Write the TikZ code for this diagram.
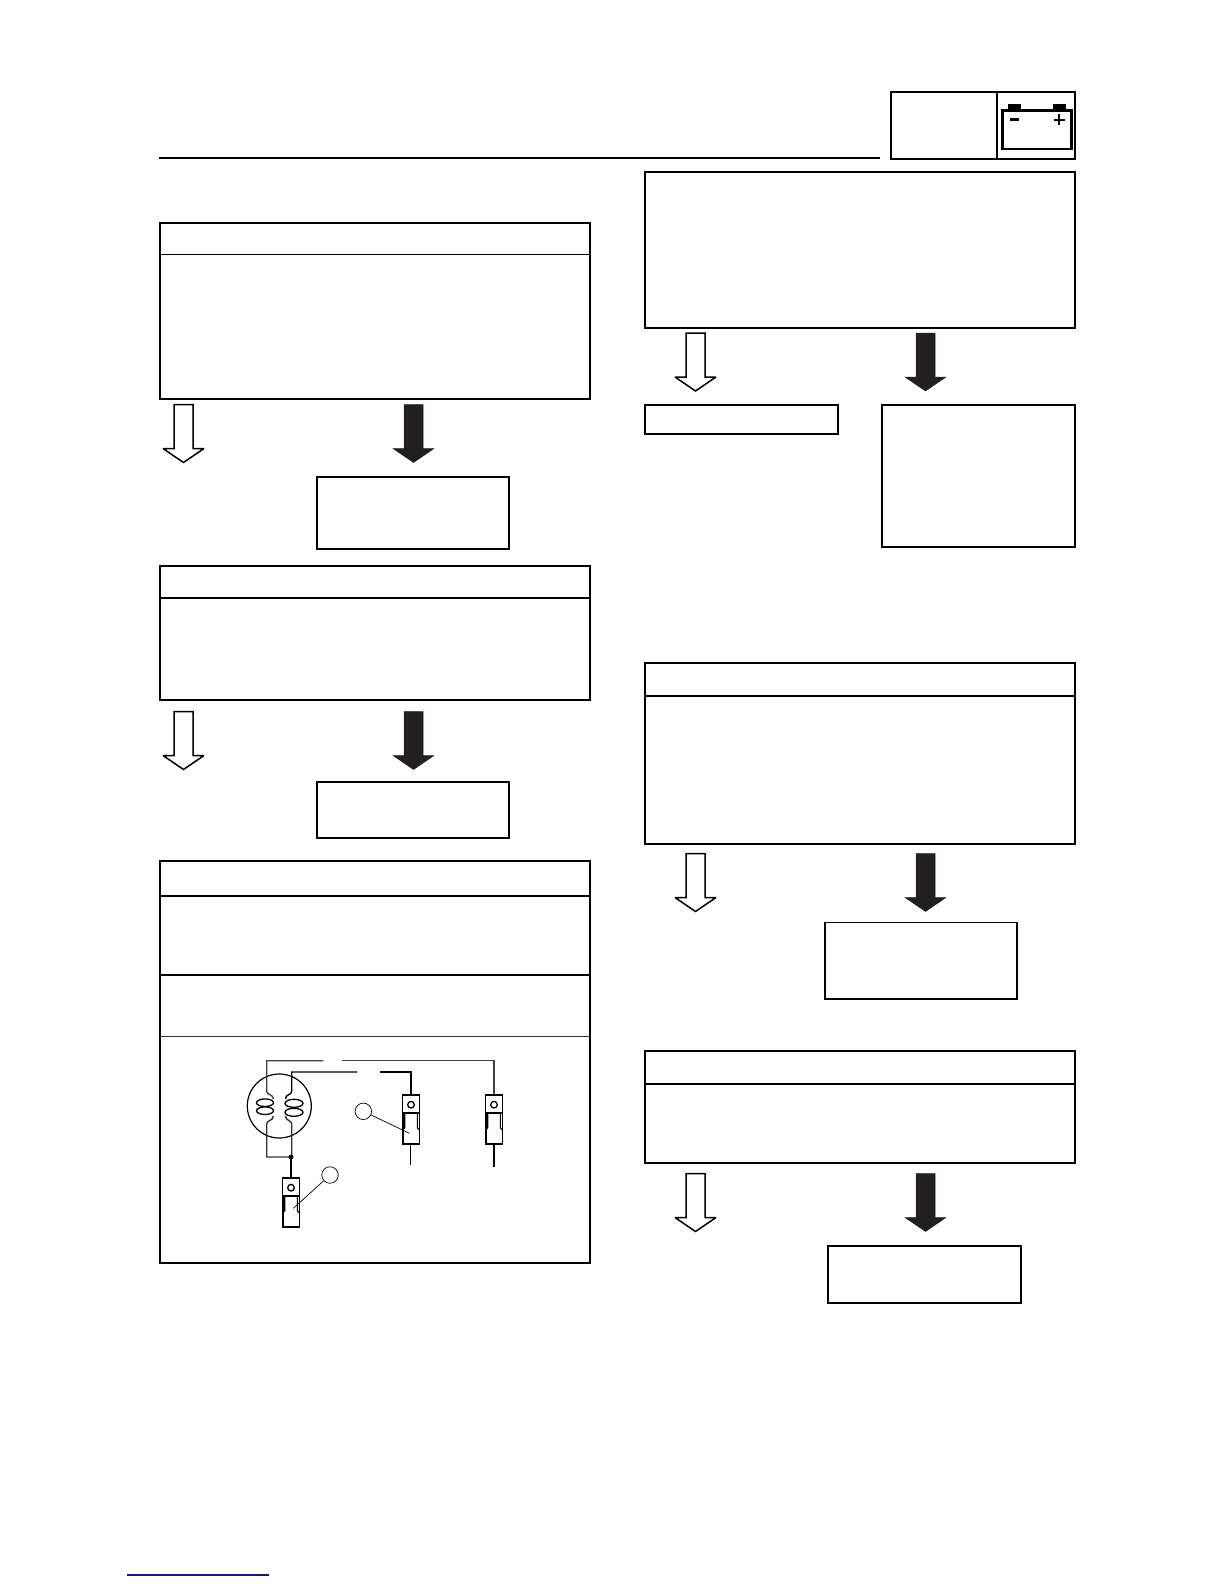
\documentclass[tikz,border=0pt]{standalone}
\usetikzlibrary{calc}

\definecolor{linkblue}{RGB}{20,20,140}
\definecolor{arrowblack}{RGB}{35,31,32}

\tikzset{
  flowbox/.style={draw,line width=2pt,anchor=north west,inner sep=0pt,outer sep=0pt},
  rulethin/.style={line width=1pt,color=black!80},
  openarrow/.style={draw=black,fill=white,line width=1.5pt,miter limit=3,blockarrow},
  solidarrow/.style={draw=arrowblack,fill=arrowblack,line width=0.5pt,blockarrow},
  blockarrow/.style={to path={
    let \p1=(\tikztostart), \p2=(\tikztotarget) in
    (\x1-9.5pt,\y1) -- (\x1+9.5pt,\y1) -- (\x1+9.5pt,\y2+14pt) -- (\x1+20.5pt,\y2+14pt)
    -- (\x2,\y2) -- (\x1-20.5pt,\y2+14pt) -- (\x1-9.5pt,\y2+14pt) -- cycle}},
  wire/.style={line width=1.4pt,line join=miter},
  tag/.style={draw,circle,line width=0.7pt,minimum size=16.5pt,inner sep=0pt},
  terminal/.pic={
    \draw[line width=1.5pt,fill=white] (-8.3,0) rectangle (8.3,17.7);
    \draw[line width=1.3pt] (0,9.7) circle (3.3);
    \draw[line width=1.6pt] (-8.3,18.3) rectangle (8.3,49);
    \draw[line width=1.1pt] (-6.3,18.3) -- (-6.3,33) -- (-8.3,35);
    \draw[line width=1.1pt] (6.3,18.3) -- (6.3,33) -- (8.3,35);
  }
}

\begin{document}
\begin{tikzpicture}[x=1pt,y=-1pt]
  \useasboundingbox (0,0) rectangle (1224,1584);
  % page head
  \draw[line width=2pt] (159,158) -- (880,158);
  \node[flowbox,minimum width=184pt,minimum height=67pt] (tabbox) at (891,92) {};
  \draw[line width=1.5pt] (997,92) -- (997,159);
  \draw[line width=2.8pt] (1002.5,110.5) rectangle (1071.5,149);
  \fill (1008,104) rectangle (1021,110);
  \fill (1053,104) rectangle (1066,110);
  \draw[line width=2.2pt] (1010,119.5) -- (1019,119.5);
  \draw[line width=2.4pt] (1053.5,120) -- (1064.5,120);
  \draw[line width=2.4pt] (1059,114.5) -- (1059,125.5);
  % left column
  \node[flowbox,minimum width=430pt,minimum height=176pt] (checka) at (160,222.5) {};
  \draw[line width=1.6pt] (160,254.5) -- (590,254.5);
  \node[flowbox,minimum width=192pt,minimum height=72pt] (repaira) at (317,477) {};
  \node[flowbox,minimum width=430pt,minimum height=134pt] (checkb) at (160,566) {};
  \draw[line width=1.6pt] (160,598) -- (590,598);
  \node[flowbox,minimum width=192pt,minimum height=56pt] (repairb) at (317,782) {};
  \node[flowbox,minimum width=430pt,minimum height=402.5pt] (checkc) at (160,860.5) {};
  \draw[line width=1.6pt] (160,896) -- (590,896);
  \draw[line width=1.6pt] (160,975) -- (590,975);
  \draw[rulethin] (160,1036) -- (590,1036);
  % right column
  \node[flowbox,minimum width=430.5pt,minimum height=156pt] (checkd) at (644.5,172) {};
  \node[flowbox,minimum width=193.5pt,minimum height=29pt] (okd) at (644.5,404.5) {};
  \node[flowbox,minimum width=193pt,minimum height=142pt] (repaird) at (882,405) {};
  \node[flowbox,minimum width=430.5pt,minimum height=180.5pt] (checke) at (644.5,663) {};
  \draw[line width=1.6pt] (644.5,696) -- (1075,696);
  \node[flowbox,line width=1.2pt,minimum width=192pt,minimum height=76.5pt] (repaire) at (825,922.5) {};
  \node[flowbox,minimum width=430.5pt,minimum height=112pt] (checkf) at (644.5,1050.5) {};
  \draw[line width=1.6pt] (644.5,1084) -- (1075,1084);
  \node[flowbox,minimum width=193pt,minimum height=57pt] (repairf) at (828,1245.5) {};
  % arrows
  \coordinate (opena1) at (183.5,404.5);
  \coordinate (opena2) at (183.5,462.5);
  \coordinate (solida1) at (413.5,404.5);
  \coordinate (solida2) at (413.5,462.5);
  \coordinate (openb1) at (183.5,711.5);
  \coordinate (openb2) at (183.5,769.5);
  \coordinate (solidb1) at (413.5,711.5);
  \coordinate (solidb2) at (413.5,769.5);
  \coordinate (opend1) at (695.5,333);
  \coordinate (opend2) at (695.5,391);
  \coordinate (solidd1) at (925.5,333);
  \coordinate (solidd2) at (925.5,391);
  \coordinate (opene1) at (695.5,853.5);
  \coordinate (opene2) at (695.5,911.5);
  \coordinate (solide1) at (925.5,853.5);
  \coordinate (solide2) at (925.5,911.5);
  \coordinate (openf1) at (695.5,1173.5);
  \coordinate (openf2) at (695.5,1231.5);
  \coordinate (solidf1) at (925.5,1173.5);
  \coordinate (solidf2) at (925.5,1231.5);
  \foreach \row in {a,b,d,e,f} {
    \path[openarrow] (open\row1) to (open\row2);
    \path[solidarrow] (solid\row1) to (solid\row2);
  }
  % coil and wiring
  \draw[line width=1.2pt] (279.3,1106) circle (32);
  \draw[wire,color=black!75] (323.3,1060.7) -- (266.7,1060.7) -- (266.7,1091.5)
    .. controls (266.7,1095) and (273.3,1094) .. (273.3,1099);
  \draw[wire,color=black!75] (342.3,1060.7) -- (494,1060.7) -- (494,1095);
  \draw[wire] (357.3,1072) -- (291.7,1072) -- (291.7,1091.5)
    .. controls (291.7,1095) and (285.5,1094) .. (285.5,1099);
  \draw[wire,line width=1.6pt] (380,1072) -- (411,1072) -- (411,1095);
  \draw[wire,color=black!80] (273.3,1116) .. controls (273.3,1121) and (266.7,1120) .. (266.7,1124)
    -- (266.7,1157) -- (291,1157);
  \draw[wire,color=black!80] (285.5,1116) .. controls (285.5,1121) and (291.7,1120) .. (291.7,1124)
    -- (291.7,1157);
  \draw[wire,line width=1.8pt] (291,1157) -- (291,1178);
  \fill (291,1157) circle (2.5);
  \foreach \cy in {1102.7,1110.7} {
    \draw[line width=1.3pt] (265,\cy) ellipse (8.5 and 3.8);
  }
  \foreach \cy in {1103.3,1112.3} {
    \draw[line width=1.3pt] (294,\cy) ellipse (9 and 4);
  }
  \pic at (411,1095) {terminal};
  \pic at (494,1095) {terminal};
  \pic at (291,1178) {terminal};
  \draw[line width=0.7pt] (410.5,1144) -- (410.5,1165);
  \draw[line width=1.4pt] (494,1144) -- (494,1167);
  % callouts
  \node[tag] (tagb) at (363.3,1111.3) {};
  \coordinate (tagbend) at (409.5,1133.3);
  \draw[line width=0.7pt] (tagb) -- (tagbend);
  \node[tag] (taga) at (330,1175) {};
  \coordinate (tagaend) at (293.3,1208.3);
  \draw[line width=0.7pt] (taga) -- (tagaend);
  % link rule
  \draw[line width=1.2pt,color=linkblue] (127,1575) -- (269,1575);
\end{tikzpicture}
\end{document}
